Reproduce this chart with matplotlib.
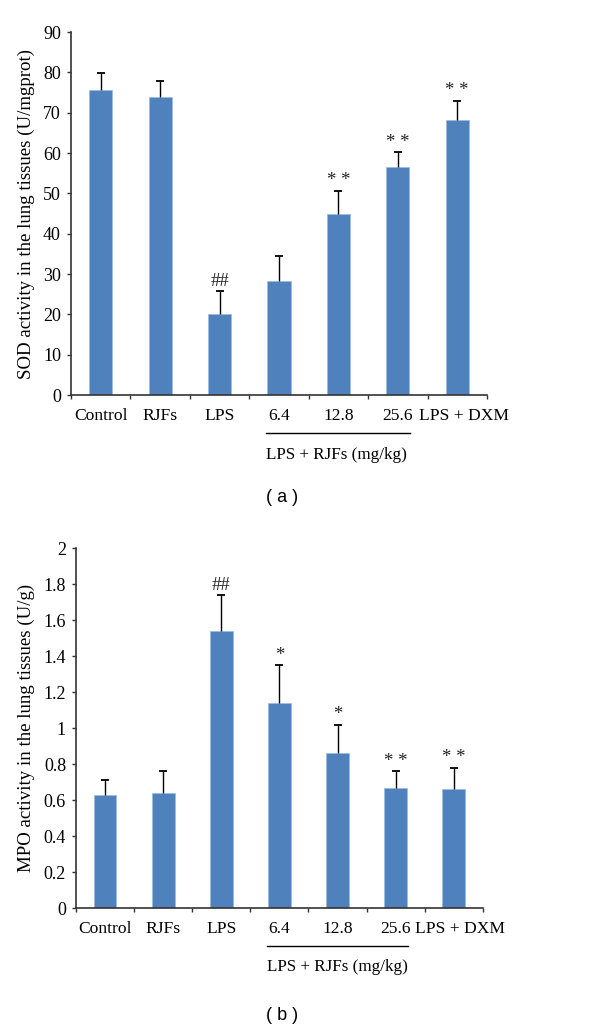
import matplotlib
matplotlib.use("Agg")
import matplotlib.pyplot as plt
import numpy as np

groups = ["Control", "RJFs", "LPS", "6.4", "12.8", "25.6", "LPS + DXM"]

sod_mean = [75.6, 74.0, 20.2, 28.3, 44.9, 56.5, 68.3]
sod_err = [4.2, 3.9, 5.6, 6.1, 5.8, 3.7, 4.7]
sod_marks = ["", "", "##", "", "* *", "* *", "* *"]

mpo_mean = [0.63, 0.64, 1.54, 1.14, 0.86, 0.67, 0.66]
mpo_err = [0.08, 0.12, 0.20, 0.21, 0.16, 0.09, 0.12]
mpo_marks = ["", "", "##", "*", "*", "* *", "* *"]

group_label = "LPS + RJFs (mg/kg)"
bar_color = "#4F81BD"
serif = "Liberation Serif"

fig = plt.figure(figsize=(6.0, 10.29), dpi=100)

def draw(ax, means, errs, marks, ylim, yticks, ytlabels, ylabel, panel, panel_y):
    x = np.arange(len(groups))
    means = np.asarray(means)
    errs = np.asarray(errs)
    ax.bar(x, means, width=0.39, color=bar_color, edgecolor="#9DBCE3", linewidth=0.6, zorder=2)
    _, caps, _ = ax.errorbar(x, means, yerr=[np.zeros(len(errs)), errs], fmt="none",
                             ecolor="black", elinewidth=1.0, capsize=2.6, capthick=1.3, zorder=3)
    caps[0].set_visible(False)
    span = ylim[1] - ylim[0]
    for xi, m, e, t in zip(x, means, errs, marks):
        if t:
            ax.text(xi, m + e + span * 0.004, t, ha="center", va="bottom",
                    fontsize=13.5, family=serif, color="#222222")
    ax.set_xlim(-0.5, len(groups) - 0.5)
    ax.set_ylim(*ylim)
    ax.set_yticks(yticks)
    ax.set_yticklabels(ytlabels, family=serif, fontsize=13)
    ax.set_xticks(np.arange(len(groups) + 1) - 0.5)
    ax.set_xticklabels([])
    # label positions: last label nudged right a little, as in the original
    label_pos = x + np.array([0, 0, 0, 0, 0, 0, 0.11])
    ax.set_xticks(label_pos, minor=True)
    ax.set_xticklabels(groups, minor=True, family=serif, fontsize=12.6)
    ax.tick_params(axis="x", which="minor", length=0, pad=9)
    ax.tick_params(axis="x", which="major", length=3.2, width=1.0, color="#333333")
    ax.tick_params(axis="y", length=3.2, width=1.0, color="#333333", pad=4)
    for s in ["top", "right"]:
        ax.spines[s].set_visible(False)
    for s in ["left", "bottom"]:
        ax.spines[s].set_color("#333333")
        ax.spines[s].set_linewidth(1.2)
    ax.set_ylabel(ylabel, family=serif, fontsize=13.6, labelpad=6)
    # group bracket below 6.4 .. 25.6
    ax.plot([2.79, 5.21], [-0.104, -0.104], transform=ax.get_xaxis_transform(),
            color="black", lw=1.0, clip_on=False)
    ax.text(2.79, -0.164, group_label, transform=ax.get_xaxis_transform(),
            ha="left", va="center", family=serif, fontsize=12.3)
    fig.text(0.47, panel_y, panel, ha="center", va="center",
             family="Liberation Sans", fontsize=13)

ax1 = fig.add_axes([0.1183, 0.6161, 0.6933, 0.3528])
draw(ax1, sod_mean, sod_err, sod_marks, (0, 90), np.arange(0, 91, 10),
     [str(v) for v in range(0, 91, 10)],
     "SOD activity in the lung tissues (U/mgprot)", "( a )", 1 - 497 / 1029)

ax2 = fig.add_axes([0.1267, 0.1173, 0.678, 0.3499])
mpo_ticks = np.round(np.arange(0, 2.01, 0.2), 1)
draw(ax2, mpo_mean, mpo_err, mpo_marks, (0, 2), mpo_ticks,
     ["0", "0.2", "0.4", "0.6", "0.8", "1", "1.2", "1.4", "1.6", "1.8", "2"],
     "MPO activity in the lung tissues (U/g)", "( b )", 1 - 1015 / 1029)

fig.savefig("out.png", dpi=100, facecolor="white")
